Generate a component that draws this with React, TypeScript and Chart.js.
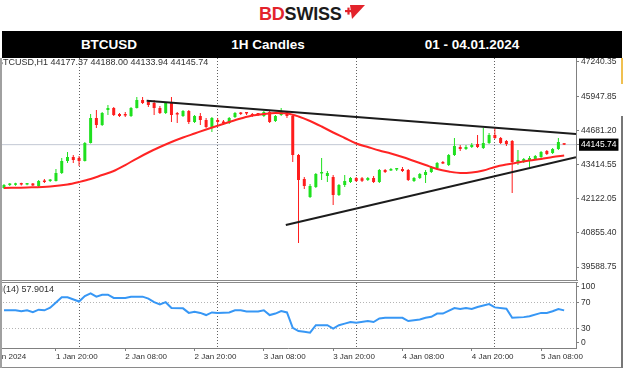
import React, { useEffect, useRef } from 'react';
import { Chart, registerables } from 'chart.js';

Chart.register(...registerables);

const SYMBOL = 'BTCUSD';
const TIMEFRAME = 'H1';
const START_HOUR = 11; // first visible candle: 1 Jan 2024 11:00 (hours counted from 1 Jan 00:00)
const X_MIN = 10.31;
const X_MAX = 110.05;
const Y_MIN = 39104.5;
const Y_MAX = 47374;

const OPEN = [
  42531, 42643, 42650, 42705, 42660, 42700, 42606, 42810, 42792, 42792,
  43090, 43537, 43686, 43648, 43537, 44208, 45139, 44878, 45437, 45511,
  45288, 45269, 45213, 45511, 45809, 45735, 45698, 45511, 45325, 45735,
  45307, 45213, 45400, 44990, 45213, 45064, 44804, 45064, 44990, 44953,
  45176, 45325, 45344, 45288, 45307, 45213, 45362, 45027, 45251, 45362,
  45213, 43760, 42866, 42196, 42569, 43072, 42978, 42941, 42271, 42643,
  42755, 42904, 42895, 42829, 42904, 42755, 43202, 43183, 43220, 43238,
  43202, 42792, 42904, 43016, 43127, 43276, 43481, 43387, 43760, 44058,
  43984, 44058, 44170, 44021, 44208, 44505, 44394, 44282, 44282, 43462,
  43499, 43537, 43611, 43686, 43910, 43835, 43984, 44177.37,
];
const HIGH = [
  42680, 42718, 42725, 42730, 42720, 42718, 42829, 42866, 42866, 43238,
  43648, 43872, 43760, 43723, 44245, 45288, 45437, 45362, 45623, 45549,
  45325, 45362, 45549, 45921, 45921, 45772, 45809, 45586, 45735, 45921,
  45362, 45437, 45437, 45251, 45325, 45139, 45176, 45139, 45064, 45176,
  45362, 45362, 45362, 45325, 45325, 45400, 45400, 45251, 45511, 45400,
  45251, 43798, 42941, 42680, 43090, 43648, 43164, 43016, 42680, 43016,
  42941, 42941, 42941, 42941, 42978, 43238, 43238, 43276, 43276, 43313,
  43238, 42941, 43090, 43202, 43350, 43499, 43537, 43798, 44394, 44133,
  44133, 44208, 44505, 44766, 44580, 44766, 44431, 44319, 44319, 43947,
  43648, 43723, 43760, 43910, 43947, 44021, 44394, 44188.0,
];
const LOW = [
  42494, 42606, 42615, 42620, 42630, 42606, 42569, 42718, 42755, 42775,
  43053, 43462, 43462, 43350, 43518, 44190, 44766, 44841, 45251, 45213,
  45176, 45176, 45176, 45493, 45660, 45549, 45251, 45288, 45288, 44990,
  44953, 45176, 44915, 44953, 44878, 44766, 44617, 44915, 44878, 44915,
  45139, 45251, 45251, 45176, 45213, 45176, 44953, 44990, 45213, 45139,
  43499, 40483, 42494, 42159, 42531, 42829, 42755, 41898, 42233, 42569,
  42718, 42755, 42755, 42792, 42718, 42718, 43090, 43164, 43164, 43127,
  42792, 42755, 42866, 42718, 43090, 43238, 43425, 43350, 43723, 43910,
  43947, 44021, 44021, 43984, 44170, 44357, 44170, 44096, 42345, 43387,
  43462, 43313, 43574, 43648, 43760, 43798, 43947, 44133.94,
];
const CLOSE = [
  42643, 42699, 42705, 42660, 42700, 42625, 42792, 42755, 42848, 43090,
  43537, 43686, 43574, 43537, 44208, 45139, 44878, 45325, 45511, 45251,
  45213, 45232, 45511, 45809, 45698, 45623, 45511, 45325, 45698, 45251,
  45269, 45400, 44990, 45213, 45064, 44804, 45139, 44990, 44953, 45139,
  45325, 45288, 45307, 45213, 45269, 45362, 44990, 45213, 45400, 45213,
  43760, 42829, 42606, 42606, 43053, 43109, 43090, 42271, 42643, 42792,
  42904, 42792, 42800, 42904, 42755, 43202, 43127, 43220, 43257, 43164,
  42829, 42904, 43053, 43127, 43313, 43462, 43444, 43760, 44096, 43984,
  44058, 44133, 44058, 44208, 44505, 44394, 44208, 44170, 43499, 43574,
  43611, 43648, 43723, 43872, 43798, 43984, 44245, 44145.74,
];

const MA_HOURS = [11, 15, 19, 22, 24, 26, 28, 30, 32, 34, 36, 38, 40, 42, 44, 46, 48, 50, 52, 54, 56, 58, 60, 62, 64, 66, 68, 70, 72, 74, 76, 78, 80, 82, 84, 86, 88, 90, 92, 94, 96, 98, 100, 102, 104, 106, 108];
const MA_VALUES = [42531, 42550, 42587, 42662, 42755, 42866, 43016, 43164, 43387, 43630, 43854, 44058, 44245, 44412, 44561, 44710, 44852, 44990, 45120, 45232, 45288, 45325, 45307, 45195, 45027, 44822, 44599, 44394, 44189, 44058, 43928, 43816, 43686, 43537, 43387, 43238, 43146, 43090, 43109, 43183, 43313, 43406, 43481, 43556, 43611, 43686, 43742];

const TREND_UPPER_HOURS = [35.7, 110.05];
const TREND_UPPER_PRICES = [45783, 44543];
const TREND_LOWER_HOURS = [59.8, 110.05];
const TREND_LOWER_PRICES = [41153, 43675];

const RSI_HOURS = [11, 13, 14, 15, 16, 17, 18, 19, 20, 21, 22, 24, 25, 26, 27, 28, 29, 30, 32, 33, 35, 36, 37, 38, 39, 40, 42, 43, 44, 45, 46, 47, 48, 50, 51, 52, 53, 55, 56, 57, 58, 59, 60, 61, 62, 63, 64, 65, 67, 68, 69, 70, 71, 72, 74, 75, 76, 77, 80, 81, 83, 84, 85, 86, 87, 89, 90, 91, 92, 93, 95, 96, 98, 99, 101, 102, 104, 105, 106, 107, 108];
const RSI_VALUES = [58, 58, 56.7, 58, 55, 59, 58, 62, 70, 78, 78, 71.5, 80, 84, 79, 82, 82, 77, 77, 79, 79, 76, 70.5, 67, 70.5, 61.5, 61, 54, 55.6, 54, 50.7, 54.7, 54, 54.7, 58, 58, 56, 56, 58, 50.7, 53, 56.7, 54.7, 31, 26, 25, 23.6, 35, 35, 30, 35, 37.5, 40, 39, 41.5, 40, 45.5, 46.5, 46.5, 41.5, 44, 46.5, 48, 53, 53, 61.5, 60, 61.5, 60, 63, 67.5, 62.5, 60.5, 46.5, 47.5, 49, 54, 54, 56.5, 60, 57.9014];
const RSI_LEVELS = [30, 70];
const RSI_LABEL_POS = [8, 30, 70, 94];
const RSI_LABELS = ['0', '30', '70', '100'];

const PRICE_TICKS = [39588.75, 40855.4, 42122.05, 43414.55, 44681.2, 45947.85, 47240.35];
const DAY_SEPARATORS = [24, 48, 72, 96];
const X_TICK_HOURS = [8, 20, 32, 44, 56, 68, 80, 92, 104];
const X_TICK_LABELS = ['1 Jan 2024', '1 Jan 20:00', '2 Jan 08:00', '2 Jan 20:00', '3 Jan 08:00', '3 Jan 20:00', '4 Jan 08:00', '4 Jan 20:00', '5 Jan 08:00'];

const HEADER_CELLS = ['BTCUSD', '1H Candles', '01 - 04.01.2024'];

const FONT = "'Liberation Sans', Arial, sans-serif";
const BULL = '#1fe01f';
const BEAR = '#ff1c1c';
const AXIS = '#808080';
const TEXT = '#303030';

const zeroPad = (s: any) => {
  s.paddingLeft = 0;
  s.paddingRight = 0;
  s.paddingTop = 0;
  s.paddingBottom = 0;
};

export default function App() {
  const mainRef = useRef<HTMLCanvasElement>(null);
  const rsiRef = useRef<HTMLCanvasElement>(null);

  useEffect(() => {
    const n = OPEN.length;
    const last = n - 1;
    const LAST_PRICE = CLOSE[last];
    const hours = OPEN.map((_, i) => START_HOUR + i);
    const colors = hours.map((_, i) => (CLOSE[i] >= OPEN[i] ? BULL : BEAR));

    const mainLabel = {
      id: 'mainLabel',
      afterDraw(chart: any) {
        const ctx = chart.ctx;
        ctx.save();
        ctx.font = `9px ${FONT}`;
        ctx.fillStyle = TEXT;
        ctx.textBaseline = 'middle';
        ctx.textAlign = 'left';
        const txt = `${SYMBOL},${TIMEFRAME} ${OPEN[last].toFixed(2)} ${HIGH[last].toFixed(2)} ${LOW[last].toFixed(2)} ${CLOSE[last].toFixed(2)}`;
        const hidden = ctx.measureText(SYMBOL.slice(0, 1)).width;
        ctx.fillText(txt, 3 - hidden, 4.5);
        ctx.restore();
      },
    };

    const rsiLabel = {
      id: 'rsiLabel',
      afterDraw(chart: any) {
        const ctx = chart.ctx;
        ctx.save();
        ctx.font = `9px ${FONT}`;
        ctx.fillStyle = TEXT;
        ctx.textBaseline = 'middle';
        ctx.textAlign = 'left';
        const hidden = ctx.measureText('RSI').width;
        ctx.fillText(`RSI(14) ${RSI_VALUES[RSI_VALUES.length - 1].toFixed(4)}`, 3 - hidden, 6.5);
        ctx.restore();
      },
    };

    const main = new Chart(mainRef.current as HTMLCanvasElement, {
      type: 'bar',
      data: {
        datasets: [
          {
            type: 'line',
            data: [{ x: X_MIN, y: LAST_PRICE }, { x: X_MAX, y: LAST_PRICE }],
            borderColor: '#c2c8d3',
            borderWidth: 1,
            pointRadius: 0,
            order: 10,
          } as any,
          {
            type: 'bar',
            data: hours.map((x, i) => ({ x, y: [LOW[i], HIGH[i]] })),
            backgroundColor: colors,
            barThickness: 1,
            maxBarThickness: 1,
            grouped: false,
            inflateAmount: 0,
            borderWidth: 0,
            order: 9,
          } as any,
          {
            type: 'bar',
            data: hours.map((x, i) => ({ x, y: [OPEN[i], CLOSE[i]] })),
            backgroundColor: colors,
            barThickness: 3,
            maxBarThickness: 3,
            minBarLength: 1.5,
            grouped: false,
            inflateAmount: 0,
            borderWidth: 0,
            order: 8,
          } as any,
          {
            type: 'line',
            data: MA_HOURS.map((x, i) => ({ x, y: MA_VALUES[i] })),
            borderColor: '#ff2424',
            borderWidth: 2,
            pointRadius: 0,
            cubicInterpolationMode: 'monotone',
            order: 7,
          } as any,
          {
            type: 'line',
            data: TREND_UPPER_HOURS.map((x, i) => ({ x, y: TREND_UPPER_PRICES[i] })),
            borderColor: '#1c1c1c',
            borderWidth: 2,
            pointRadius: 0,
            order: 6,
          } as any,
          {
            type: 'line',
            data: TREND_LOWER_HOURS.map((x, i) => ({ x, y: TREND_LOWER_PRICES[i] })),
            borderColor: '#1c1c1c',
            borderWidth: 2,
            pointRadius: 0,
            order: 6,
          } as any,
        ],
      },
      options: {
        animation: false,
        responsive: false,
        devicePixelRatio: 1,
        events: [],
        layout: { padding: 0 },
        plugins: { legend: { display: false }, tooltip: { enabled: false } },
        scales: {
          x: {
            type: 'linear',
            min: X_MIN,
            max: X_MAX,
            offset: false,
            afterBuildTicks: (s: any) => {
              s.ticks = DAY_SEPARATORS.map((v) => ({ value: v }));
            },
            afterFit: (s: any) => {
              s.height = 0;
              zeroPad(s);
            },
            ticks: { display: false },
            grid: { color: '#606060', drawTicks: false, offset: false, lineWidth: 1 },
            border: { display: false, dash: [1, 2] },
          },
          y: {
            type: 'linear',
            position: 'right',
            min: Y_MIN,
            max: Y_MAX,
            afterBuildTicks: (s: any) => {
              s.ticks = [...PRICE_TICKS, LAST_PRICE].map((v) => ({ value: v }));
            },
            afterFit: (s: any) => {
              s.width = 48;
              zeroPad(s);
            },
            grid: { drawOnChartArea: false, drawTicks: true, tickLength: 3, tickColor: AXIS, color: AXIS },
            border: { display: true, color: AXIS, width: 1 },
            ticks: {
              autoSkip: false,
              padding: 2,
              font: { family: FONT, size: 8.5 },
              color: (ctx: any) => (ctx.tick && ctx.tick.value === LAST_PRICE ? '#ffffff' : TEXT),
              showLabelBackdrop: (ctx: any) => !!(ctx.tick && ctx.tick.value === LAST_PRICE),
              backdropColor: '#000000',
              backdropPadding: { x: 2, y: 1 },
              callback: (v: any) => Number(v).toFixed(2),
            },
          },
        },
      } as any,
      plugins: [mainLabel],
    });

    const rsi = new Chart(rsiRef.current as HTMLCanvasElement, {
      type: 'line',
      data: {
        datasets: [
          {
            data: RSI_HOURS.map((x, i) => ({ x, y: RSI_VALUES[i] })),
            borderColor: '#3797f5',
            borderWidth: 2,
            pointRadius: 0,
            tension: 0,
          },
        ],
      },
      options: {
        animation: false,
        responsive: false,
        devicePixelRatio: 1,
        events: [],
        layout: { padding: 0 },
        plugins: { legend: { display: false }, tooltip: { enabled: false } },
        scales: {
          x: {
            type: 'linear',
            position: 'bottom',
            min: X_MIN,
            max: X_MAX,
            afterBuildTicks: (s: any) => {
              s.ticks = X_TICK_HOURS.map((v) => ({ value: v }));
            },
            afterFit: (s: any) => {
              s.height = 22;
              zeroPad(s);
            },
            ticks: {
              autoSkip: false,
              align: 'start',
              maxRotation: 0,
              minRotation: 0,
              padding: 1,
              font: { family: FONT, size: 8 },
              color: TEXT,
              callback: (v: any, i: number) => X_TICK_LABELS[i],
            },
            grid: { drawOnChartArea: false, drawTicks: true, tickLength: 3, tickColor: AXIS },
            border: { display: true, color: AXIS },
          },
          xsep: {
            type: 'linear',
            position: 'bottom',
            min: X_MIN,
            max: X_MAX,
            afterBuildTicks: (s: any) => {
              s.ticks = DAY_SEPARATORS.map((v) => ({ value: v }));
            },
            afterFit: (s: any) => {
              s.height = 0;
              zeroPad(s);
            },
            ticks: { display: false },
            grid: { color: '#606060', drawTicks: false, lineWidth: 1 },
            border: { display: false, dash: [1, 2] },
          },
          y: {
            type: 'linear',
            position: 'right',
            min: 0,
            max: 100,
            afterBuildTicks: (s: any) => {
              s.ticks = RSI_LABEL_POS.map((v) => ({ value: v }));
            },
            afterFit: (s: any) => {
              s.width = 48;
              zeroPad(s);
            },
            ticks: {
              autoSkip: false,
              padding: 2,
              font: { family: FONT, size: 8.5 },
              color: TEXT,
              callback: (v: any, i: number) => RSI_LABELS[i],
            },
            grid: {
              color: (ctx: any) => (ctx.tick && RSI_LEVELS.includes(ctx.tick.value) ? '#b4b4b4' : 'rgba(0,0,0,0)'),
              tickColor: AXIS,
              tickLength: 3,
              drawTicks: true,
            },
            border: { display: true, color: AXIS, dash: [1, 2] },
          },
        },
      } as any,
      plugins: [rsiLabel],
    });

    return () => {
      main.destroy();
      rsi.destroy();
    };
  }, []);

  const abs = (o: any) => ({ position: 'absolute' as const, ...o });
  const cellCenters = [109, 268, 472];

  return (
    <div style={abs({ left: 0, top: 0, width: 624, height: 375, background: '#fff', overflow: 'hidden', fontFamily: FONT })}>
      {/* logo */}
      <div style={abs({ left: 259, top: 5, fontSize: 18, lineHeight: '18px', fontWeight: 700, whiteSpace: 'nowrap', letterSpacing: -0.2 })}>
        <span style={{ color: '#e3232b' }}>BD</span>
        <span style={{ color: '#1b1b1b' }}>SWISS</span>
      </div>
      <svg style={abs({ left: 344, top: 4, width: 22, height: 18 })} viewBox="0 0 22 18">
        <polygon points="6,1 21,1 8,15" fill="#e3232b" />
        <rect x="1" y="6" width="7" height="2.2" fill="#e3232b" />
        <rect x="3.4" y="3.6" width="2.2" height="7" fill="#e3232b" />
      </svg>
      {/* banner */}
      <div style={abs({ left: 2, top: 31, width: 620, height: 27, background: '#000' })} />
      {HEADER_CELLS.map((t, i) => (
        <div
          key={t}
          style={abs({
            left: cellCenters[i],
            top: 31,
            height: 27,
            lineHeight: '27px',
            transform: 'translateX(-50%)',
            color: '#fff',
            fontWeight: 700,
            fontSize: 13.5,
            whiteSpace: 'nowrap',
          })}
        >
          {t}
        </div>
      ))}
      {/* charts */}
      <canvas ref={mainRef} width={624} height={222} style={abs({ left: 0, top: 58, display: 'block' })} />
      <div style={abs({ left: 0, top: 280, width: 578, height: 1, background: '#8a8a8a' })} />
      <div style={abs({ left: 0, top: 282, width: 578, height: 1, background: '#8a8a8a' })} />
      <canvas ref={rsiRef} width={624} height={87} style={abs({ left: 0, top: 283, display: 'block' })} />
      {/* frame */}
      <div style={abs({ left: 0, top: 58, width: 2, height: 310, background: '#a0a0a0' })} />
      <div style={abs({ left: 2, top: 367, width: 620, height: 1, background: '#8a8a8a' })} />
      <div style={abs({ left: 621, top: 58, width: 2, height: 26, background: '#f0c050' })} />
      <div style={abs({ left: 621, top: 116, width: 2, height: 252, background: '#777' })} />
    </div>
  );
}
